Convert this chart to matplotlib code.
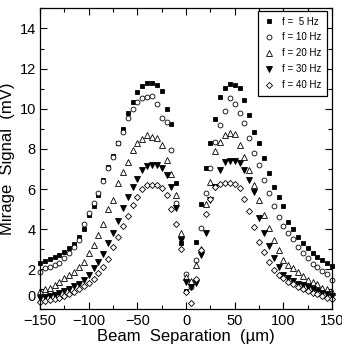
import numpy as np
import matplotlib
matplotlib.use("Agg")
import matplotlib.pyplot as plt
import matplotlib.transforms as mtransforms
from matplotlib.ticker import MultipleLocator

plt.rcParams['font.family'] = ['Liberation Sans', 'DejaVu Sans']

# beam separation (um), shared by all series
sep = [-150, -145, -140, -135, -130, -125, -120, -115, -110, -105,
       -100, -95, -90, -85, -80, -75, -70, -65, -60, -55,
       -50, -45, -40, -35, -30, -25, -20, -15, -10, -5,
       0, 5, 10, 15, 20, 25, 30, 35, 40, 45,
       50, 55, 60, 65, 70, 75, 80, 85, 90, 95,
       100, 105, 110, 115, 120, 125, 130, 135, 140, 145, 150]

# mirage signal (mV) for each modulation frequency
sig_5hz = [2.32, 2.41, 2.49, 2.59, 2.70, 2.87, 3.04, 3.25, 3.62, 3.99,
           4.70, 5.15, 5.70, 6.44, 7.10, 7.65, 8.30, 8.97, 9.77, 10.34,
           10.85, 11.14, 11.26, 11.26, 11.18, 10.90, 9.97, 9.23, 6.30, 3.30,
           0.90, 1.30, 3.37, 5.25, 7.03, 8.30, 9.47, 10.59, 11.01, 11.21,
           11.19, 11.05, 10.46, 9.68, 8.85, 8.27, 7.52, 6.81, 6.11, 5.58,
           5.15, 4.37, 3.99, 3.62, 3.29, 3.04, 2.82, 2.62, 2.46, 2.32, 2.16]
sig_10hz = [1.87, 2.04, 2.12, 2.20, 2.32, 2.54, 2.79, 3.09, 3.45, 4.25,
            4.78, 5.30, 5.81, 6.40, 7.05, 7.60, 8.27, 8.85, 9.52, 10.00,
            10.34, 10.51, 10.60, 10.63, 10.26, 9.52, 9.35, 7.94, 5.30, 3.62,
            1.76, 1.10, 2.46, 4.07, 5.78, 7.03, 8.35, 9.18, 9.90, 10.51,
            10.26, 9.80, 9.27, 8.52, 7.77, 7.19, 6.44, 5.80, 5.15, 4.58,
            4.15, 3.79, 3.49, 3.12, 2.79, 2.54, 2.26, 2.09, 1.91, 1.74, 1.49]
sig_20hz = [0.93, 1.00, 1.07, 1.21, 1.38, 1.54, 1.71, 1.87, 2.12, 2.37,
            2.79, 3.20, 3.70, 4.25, 4.98, 5.45, 6.28, 6.86, 7.36, 7.94,
            8.27, 8.49, 8.68, 8.60, 8.52, 8.19, 7.47, 6.74, 5.70, 3.80,
            1.60, 1.40, 2.20, 3.00, 5.23, 6.36, 7.87, 8.35, 8.68, 8.77,
            8.73, 8.19, 7.57, 6.94, 6.19, 5.45, 4.70, 4.04, 3.45, 2.95,
            2.46, 2.21, 2.04, 1.87, 1.66, 1.49, 1.38, 1.25, 1.08, 1.00, 0.88]
sig_30hz = [0.55, 0.60, 0.66, 0.73, 0.83, 0.93, 1.04, 1.16, 1.29, 1.46,
            1.71, 2.04, 2.37, 2.76, 3.32, 3.79, 4.41, 5.03, 5.61, 6.11,
            6.49, 6.94, 7.16, 7.20, 7.18, 7.03, 6.69, 6.11, 5.03, 3.45,
            1.35, 1.10, 1.30, 2.70, 3.79, 5.45, 6.10, 6.97, 7.33, 7.38,
            7.38, 7.30, 6.94, 6.44, 5.86, 4.53, 3.79, 3.17, 2.54, 2.12,
            1.71, 1.58, 1.41, 1.29, 1.21, 1.13, 1.00, 0.91, 0.83, 0.75, 0.66]
sig_40hz = [0.35, 0.40, 0.46, 0.52, 0.58, 0.66, 0.76, 0.88, 1.00, 1.15,
            1.32, 1.52, 1.79, 2.12, 2.49, 3.12, 3.59, 4.15, 4.65, 5.20,
            5.61, 5.98, 6.19, 6.22, 6.20, 6.05, 5.70, 5.00, 4.25, 3.00,
            0.85, 0.30, 1.50, 2.95, 4.75, 5.50, 6.10, 6.23, 6.31, 6.30,
            6.23, 6.03, 5.50, 4.90, 4.10, 3.37, 2.87, 2.37, 1.96, 1.71,
            1.54, 1.38, 1.25, 1.13, 1.01, 0.93, 0.83, 0.75, 0.66, 0.58, 0.50]

labels = ['f =  5 Hz', 'f = 10 Hz', 'f = 20 Hz', 'f = 30 Hz', 'f = 40 Hz']
series = [sig_5hz, sig_10hz, sig_20hz, sig_30hz, sig_40hz]
markers = ['s', 'o', '^', 'v', 'D']
faces = ['black', 'white', 'white', 'black', 'white']
sizes = [3.1, 3.5, 3.7, 3.9, 3.1]

fig = plt.figure(figsize=(3.42, 3.5), dpi=100)
ax = fig.add_axes([0.117, 0.116, 0.854, 0.860])

for ys, m, fc, ms, lab in zip(series, markers, faces, sizes, labels):
    ax.plot(sep, ys, linestyle='none', marker=m, markersize=ms,
            markerfacecolor=fc, markeredgecolor='black', markeredgewidth=0.6,
            label=lab, clip_on=False)

ax.set_xlim(-150, 150)
ax.set_ylim(0, 15)
ax.xaxis.set_major_locator(MultipleLocator(50))
ax.xaxis.set_minor_locator(MultipleLocator(25))
ax.yaxis.set_major_locator(MultipleLocator(2))
ax.yaxis.set_minor_locator(MultipleLocator(1))
ax.set_yticks([0, 2, 4, 6, 8, 10, 12, 14])
ax.tick_params(which='both', direction='in', top=True, right=True,
               labelsize=10.5, width=0.8, pad=3)
ax.tick_params(which='major', length=5)
ax.tick_params(which='minor', length=3)
for sp in ax.spines.values():
    sp.set_linewidth(0.9)

# the "0" label sits a little above its tick in the original
zero_lab = ax.get_yticklabels()[0]
zero_lab.set_transform(zero_lab.get_transform() +
                       mtransforms.ScaledTranslation(0, 10 / 72, fig.dpi_scale_trans))

ax.set_xlabel('Beam  Separation  (\u00b5m)', fontsize=12, labelpad=1)
ax.set_ylabel('Mirage  Signal  (mV)', fontsize=12, labelpad=3)

leg = ax.legend(loc='upper right', bbox_to_anchor=(0.983, 0.992), fontsize=7,
                frameon=True, fancybox=False, edgecolor='black', framealpha=1,
                handletextpad=0.7, handlelength=1.2, borderpad=0.6,
                labelspacing=0.6, borderaxespad=0)
leg.get_frame().set_linewidth(0.9)

fig.savefig('out.png', dpi=100)
